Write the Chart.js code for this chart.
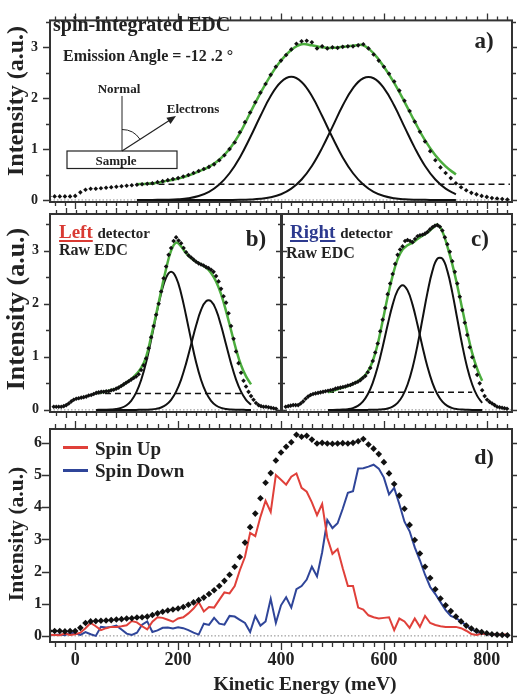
<!DOCTYPE html>
<html>
<head>
<meta charset="utf-8">
<script src="https://cdn.jsdelivr.net/npm/chart.js@4.4.1/dist/chart.umd.min.js"></script>
<style>
  html, body { margin: 0; padding: 0; background: #fff; }
  #page { position: relative; width: 517px; height: 697px; overflow: hidden; }
  canvas { position: absolute; left: 0; top: 0; }
  svg { position: absolute; left: 0; top: 0; }
  .t { position: absolute; font-family: 'Liberation Serif', 'DejaVu Serif', serif; font-weight: bold; color: #222; white-space: nowrap; line-height: 1; }
  .c { transform: translate(-50%, -50%); }
  .v { transform: translate(-50%, -50%) rotate(-90deg); }
  .l { transform: translateY(-50%); }
  .key { position: absolute; height: 2.5px; width: 25px; }
</style>
</head>
<body>
<div id="page">
  <canvas id="chartA" width="517" height="697"></canvas>
  <canvas id="chartB" width="517" height="697"></canvas>
  <canvas id="chartC" width="517" height="697"></canvas>
  <canvas id="chartD" width="517" height="697"></canvas>

  <svg width="517" height="697">
    <rect x="67" y="151" width="110" height="17.5" fill="none" stroke="#222" stroke-width="1.2"/>
    <line x1="122" y1="96" x2="122" y2="151" stroke="#222" stroke-width="1"/>
    <line x1="122" y1="151" x2="170" y2="120" stroke="#222" stroke-width="1.2"/>
    <polygon points="176,116 170.5,124.1 166.4,117.7" fill="#222"/>
    <path d="M 122 129.5 A 21.5 21.5 0 0 1 140 139.3" fill="none" stroke="#222" stroke-width="1"/>
  </svg>

  <div class="t l" style="left:53px;top:24px;font-size:20px">spin-integrated EDC</div>
  <div class="t l" style="left:63px;top:56px;font-size:16px">Emission Angle = -12 .2 °</div>
  <div class="t c" style="left:119px;top:88px;font-size:13px">Normal</div>
  <div class="t c" style="left:193px;top:108px;font-size:13px">Electrons</div>
  <div class="t c" style="left:116px;top:160px;font-size:13px">Sample</div>
  <div class="t c" style="left:484px;top:40px;font-size:23px">a)</div>
  <div class="t v" style="left:15px;top:101px;font-size:24px">Intensity (a.u.)</div>

  <div class="t" style="left:59px;top:222px;font-size:19px;line-height:19px"><span style="color:#d93a33;text-decoration:underline;text-decoration-thickness:2px;text-underline-offset:2px">Left</span> <span style="font-size:15px">detector</span></div>
  <div class="t l" style="left:59px;top:250px;font-size:16px">Raw EDC</div>
  <div class="t c" style="left:256px;top:238px;font-size:23px">b)</div>
  <div class="t v" style="left:16px;top:309px;font-size:26px">Intensity (a.u.)</div>

  <div class="t" style="left:290px;top:222px;font-size:19px;line-height:19px"><span style="color:#2d3a8f;text-decoration:underline;text-decoration-thickness:2px;text-underline-offset:2px">Right</span> <span style="font-size:15px">detector</span></div>
  <div class="t l" style="left:286px;top:253px;font-size:16px">Raw EDC</div>
  <div class="t c" style="left:480px;top:238px;font-size:23px">c)</div>

  <div class="key" style="left:63px;top:446px;background:#e0403a"></div>
  <div class="t l" style="left:95px;top:448px;font-size:19px">Spin Up</div>
  <div class="key" style="left:63px;top:469px;background:#2f4599"></div>
  <div class="t l" style="left:95px;top:470px;font-size:19px">Spin Down</div>
  <div class="t c" style="left:484px;top:457px;font-size:22px">d)</div>
  <div class="t v" style="left:17px;top:534px;font-size:21.5px">Intensity (a.u.)</div>
  <div class="t c" style="left:305px;top:684px;font-size:19.5px">Kinetic Energy (meV)</div>
</div>

<script>
// kinetic energy of the measured points (meV)
const energy = [-50,-40,-30,-20,-10,0,10,20,30,40,50,60,70,80,90,100,110,120,130,140,
  150,160,170,180,190,200,210,220,230,240,250,260,270,280,290,300,310,320,330,340,
  350,360,370,380,390,400,410,420,430,440,450,460,470,480,490,500,510,520,530,540,
  550,560,570,580,590,600,610,620,630,640,650,660,670,680,690,700,710,720,730,740,
  750,760,770,780,790,800,810,820,830,840];

// energies of the fit curves (meV)
const fitE = [120,140,160,180,200,220,240,260,280,300,320,340,360,380,400,420,440,460,
  480,500,520,540,560,580,600,620,640,660,680,700,720,740];

// a) spin-integrated EDC
const aTotal = [0.07,0.07,0.07,0.07,0.07,0.08,0.15,0.20,0.22,0.22,
  0.23,0.24,0.25,0.26,0.27,0.28,0.29,0.30,0.31,0.32,
  0.33,0.35,0.37,0.39,0.41,0.43,0.46,0.49,0.53,0.57,
  0.61,0.65,0.70,0.78,0.88,1.00,1.13,1.33,1.53,1.72,
  1.92,2.11,2.28,2.46,2.62,2.74,2.85,2.96,3.07,3.12,
  3.13,3.10,2.98,3.02,2.98,3.00,2.99,3.01,3.02,3.02,
  3.04,3.06,2.98,2.86,2.74,2.62,2.48,2.33,2.15,1.95,
  1.75,1.54,1.34,1.15,0.96,0.78,0.64,0.53,0.43,0.33,
  0.25,0.19,0.14,0.11,0.08,0.06,0.04,0.03,0.02,0.01];
const aFit = [0.31,0.32,0.34,0.38,0.42,0.48,0.56,0.65,0.79,1.00,
  1.31,1.71,2.10,2.45,2.74,2.95,3.06,3.04,3.00,2.99,
  3.01,3.03,3.04,2.88,2.62,2.30,1.93,1.54,1.17,0.88,0.66,0.50];
const aPeak1 = [0,0.0005,0.002,0.005,0.014,0.034,0.077,0.159,0.303,0.525,
  0.836,1.227,1.650,2.042,2.318,2.42,2.318,2.042,1.650,1.227,
  0.836,0.525,0.303,0.159,0.077,0.034,0.014,0.005,0.002,0.0005,0,0];
const aPeak2 = [0,0,0,0,0,0,0,0,0,0.001,
  0.003,0.009,0.022,0.052,0.112,0.222,0.402,0.668,1.024,1.437,
  1.856,2.200,2.393,2.393,2.200,1.856,1.437,1.024,0.668,0.402,0.222,0.112];
const aBaseE = [123, 845];
const aBaseI = [0.31, 0.31];

// b) left detector
const bTotal = [0.06,0.06,0.06,0.06,0.07,0.09,0.12,0.16,0.19,0.21,
  0.22,0.23,0.24,0.25,0.27,0.28,0.30,0.32,0.33,0.34,
  0.34,0.35,0.35,0.37,0.38,0.40,0.42,0.45,0.48,0.51,
  0.54,0.57,0.60,0.63,0.67,0.75,0.84,0.97,1.16,1.37,
  1.58,1.79,2.00,2.23,2.48,2.70,2.92,3.05,3.18,3.25,
  3.19,3.14,3.05,2.97,2.91,2.87,2.83,2.79,2.76,2.74,
  2.72,2.69,2.67,2.64,2.60,2.52,2.42,2.28,2.14,2.02,
  1.82,1.58,1.34,1.10,0.88,0.70,0.55,0.44,0.34,0.26,
  0.19,0.13,0.09,0.07,0.06,0.06,0.05,0.04,0.03,0.02];
const bFit = [0.32,0.33,0.35,0.37,0.40,0.45,0.51,0.58,0.67,0.79,
  1.00,1.38,1.80,2.24,2.66,3.00,3.15,3.08,2.95,2.86,
  2.79,2.74,2.68,2.58,2.42,2.18,1.86,1.50,1.14,0.84,0.63,0.48];
const bPeak1 = [0,0.001,0.002,0.006,0.015,0.037,0.083,0.171,0.325,0.564,
  0.897,1.318,1.773,2.194,2.491,2.60,2.491,2.194,1.773,1.318,
  0.897,0.564,0.325,0.171,0.083,0.037,0.015,0.006,0.002,0.001,0,0];
const bPeak2 = [0,0,0,0,0,0,0,0,0,0.001,
  0.003,0.007,0.019,0.045,0.096,0.190,0.344,0.571,0.876,1.230,
  1.588,1.882,2.047,2.047,1.882,1.588,1.230,0.876,0.571,0.344,0.190,0.096];
const bBaseE = [115, 705];
const bBaseI = [0.31, 0.31];

// c) right detector
const cTotal = [0.06,0.07,0.08,0.09,0.09,0.09,0.12,0.16,0.21,0.25,
  0.28,0.30,0.31,0.32,0.33,0.34,0.35,0.36,0.37,0.38,
  0.40,0.41,0.42,0.43,0.44,0.46,0.47,0.49,0.51,0.53,
  0.56,0.60,0.64,0.71,0.79,0.92,1.08,1.25,1.48,1.70,
  1.92,2.18,2.38,2.56,2.75,2.92,3.02,3.08,3.18,3.20,
  3.18,3.16,3.22,3.27,3.29,3.30,3.32,3.35,3.40,3.44,
  3.47,3.48,3.45,3.38,3.25,3.12,2.98,2.80,2.60,2.38,
  2.13,1.88,1.64,1.41,1.18,0.99,0.82,0.66,0.50,0.37,
  0.26,0.19,0.15,0.12,0.09,0.06,0.05,0.04,0.03,0.02];
const cFit = [0.33,0.36,0.39,0.42,0.45,0.49,0.54,0.61,0.72,0.92,
  1.24,1.68,2.13,2.53,2.84,3.02,3.10,3.15,3.22,3.28,
  3.34,3.42,3.49,3.36,3.08,2.74,2.34,1.90,1.46,1.07,0.77,0.55];
const cPeak1 = [0,0,0.002,0.005,0.014,0.033,0.075,0.155,0.294,0.510,
  0.811,1.191,1.603,1.983,2.251,2.35,2.251,1.983,1.603,1.191,
  0.811,0.510,0.294,0.155,0.075,0.033,0.014,0.005,0.002,0,0,0];
const cPeak2 = [0,0,0,0,0,0,0,0,0,0.001,
  0.004,0.010,0.026,0.062,0.133,0.264,0.478,0.795,1.218,1.711,
  2.209,2.618,2.848,2.848,2.618,2.209,1.711,1.218,0.795,0.478,0.264,0.133];
const cBaseE = [120, 700];
const cBaseI = [0.33, 0.33];

// d) spin resolved
const dTotal = [0.15,0.15,0.15,0.14,0.15,0.15,0.25,0.40,0.45,0.46,
  0.47,0.48,0.49,0.51,0.52,0.54,0.55,0.57,0.58,0.60,
  0.65,0.70,0.75,0.79,0.82,0.85,0.90,0.97,1.04,1.11,
  1.19,1.30,1.42,1.55,1.71,1.90,2.15,2.45,2.90,3.38,
  3.80,4.28,4.76,5.06,5.45,5.70,5.88,6.02,6.25,6.19,
  6.22,6.10,5.98,6.00,5.98,5.97,5.98,5.99,5.98,6.00,
  6.05,6.12,5.95,5.82,5.65,5.40,5.05,4.72,4.36,3.95,
  3.45,2.98,2.56,2.15,1.80,1.45,1.16,0.95,0.77,0.60,
  0.45,0.32,0.23,0.16,0.12,0.08,0.05,0.04,0.03,0.02];
const dUp = [0.04,0.03,0.02,0.07,0.03,0.05,0.10,0.24,0.40,0.30,
  0.18,0.24,0.28,0.28,0.30,0.33,0.46,0.42,0.30,0.20,
  0.44,0.58,0.56,0.50,0.44,0.54,0.58,0.70,0.85,1.05,
  0.76,0.90,0.88,1.12,1.35,1.32,1.55,2.04,2.46,3.20,
  3.10,3.70,4.20,3.85,5.00,4.85,4.70,4.95,5.05,4.60,
  4.48,4.15,3.75,4.10,3.05,2.55,2.70,2.10,1.55,1.55,
  0.88,0.82,0.64,0.58,0.54,0.56,0.58,0.18,0.54,0.45,
  0.25,0.54,0.28,0.62,0.40,0.34,0.30,0.28,0.28,0.28,
  0.24,0.16,0.06,0.03,0.07,0.06,0.05,0.04,0.04,0.04];
const dDown = [0.02,0.03,0.04,0.02,0.10,0.08,0.03,0.12,0.05,0.00,
  0.28,0.26,0.28,0.32,0.20,0.07,0.03,0.10,0.35,0.45,
  0.12,0.17,0.25,0.26,0.23,0.27,0.24,0.18,0.10,0.04,
  0.38,0.34,0.56,0.38,0.35,0.62,0.60,0.50,0.40,0.12,
  0.62,0.32,0.45,1.15,0.40,0.95,1.20,0.88,1.45,1.55,
  1.75,2.15,1.85,2.60,3.60,3.35,3.50,3.95,4.45,4.50,
  5.20,5.21,5.26,5.32,5.20,4.92,4.40,4.60,4.10,3.55,
  3.25,2.75,2.35,1.90,1.52,1.30,1.05,0.80,0.62,0.55,
  0.45,0.32,0.22,0.12,0.07,0.05,0.04,0.04,0.03,0.02];

// axis ranges and tick labels
const xRangeAD = [-49, 849];
const xRangeBC = [-65, 860];
const xLabelsD = [0, 200, 400, 600, 800];
const yLabelsABC = [0, 1, 2, 3];
const yLabelsD = [0, 1, 2, 3, 4, 5, 6];

const GREEN = '#4cad3e';
const RED = '#e0403a';
const BLUE = '#2f4599';
const FONT = 'Liberation Serif';

const pts = (xs, ys) => xs.map((x, i) => ({ x: x, y: ys[i] }));

function dots(xs, ys, r) {
    return { data: pts(xs, ys), showLine: false, pointStyle: 'rectRot', pointRadius: r,
             pointBackgroundColor: '#111', pointBorderWidth: 0 };
}

function curve(xs, ys, color, width, extra) {
    return Object.assign({ data: pts(xs, ys), borderColor: color, borderWidth: width,
                           pointRadius: 0, tension: 0.4, fill: false }, extra || {});
}

function zeroLine(range) {
    return curve(range, [0, 0], '#888', 1, { borderDash: [1.5, 2], tension: 0 });
}

// box around the plot area plus outward major/minor ticks
const frameTicks = {
    id: 'frameTicks',
    afterDatasetsDraw(chart, args, o) {
        const { ctx, chartArea: ca, scales } = chart;
        const xs = scales.x, ys = scales.y;
        ctx.save();
        ctx.strokeStyle = '#333';
        ctx.lineWidth = 1.3;
        ctx.beginPath();
        for (let i = Math.ceil(xs.min / o.xStep); i * o.xStep <= xs.max; i++) {
            const px = Math.round(xs.getPixelForValue(i * o.xStep)) + 0.5;
            const len = i % o.xEvery === 0 ? o.major : o.minor;
            ctx.moveTo(px, ca.bottom); ctx.lineTo(px, ca.bottom + len);
            ctx.moveTo(px, ca.top); ctx.lineTo(px, ca.top - len);
        }
        for (let i = Math.ceil(ys.min / o.yStep); i * o.yStep <= ys.max; i++) {
            const py = Math.round(ys.getPixelForValue(i * o.yStep)) + 0.5;
            const len = i % o.yEvery === 0 ? o.major : o.minor;
            ctx.moveTo(ca.left, py); ctx.lineTo(ca.left - len, py);
            ctx.moveTo(ca.right, py); ctx.lineTo(ca.right + len, py);
        }
        ctx.stroke();
        ctx.lineWidth = 2;
        ctx.strokeRect(ca.left, ca.top, ca.right - ca.left, ca.bottom - ca.top);
        ctx.restore();
    }
};

function makeChart(id, datasets, o) {
    const yScale = {
        min: o.yMin, max: o.yMax, display: !!o.yLabels,
        grid: { display: false, drawTicks: false }, border: { display: false },
        ticks: { padding: o.yPad, color: '#222', font: { family: FONT, weight: 'bold', size: o.yFont } },
        afterBuildTicks: s => { if (o.yLabels) s.ticks = o.yLabels.map(v => ({ value: v })); },
        afterFit: s => { if (o.yLabels) s.width = 50; }
    };
    const xScale = {
        type: 'linear', min: o.xRange[0], max: o.xRange[1], display: !!o.xLabels,
        grid: { display: false, drawTicks: false }, border: { display: false },
        ticks: { autoSkip: false, maxRotation: 0, padding: 8, color: '#222',
                 font: { family: FONT, weight: 'bold', size: 18 } },
        afterBuildTicks: s => { if (o.xLabels) s.ticks = o.xLabels.map(v => ({ value: v })); },
        afterFit: s => { if (o.xLabels) s.height = 30; }
    };
    return new Chart(document.getElementById(id), {
        type: 'line',
        data: { datasets: datasets },
        options: {
            responsive: false,
            animation: false,
            devicePixelRatio: 1,
            layout: { padding: o.pad },
            plugins: { legend: { display: false }, tooltip: { enabled: false }, frameTicks: o.ticks },
            scales: { x: xScale, y: yScale }
        },
        plugins: [frameTicks]
    });
}

function edcPanel(total, fit, p1, p2, baseE, baseI, range) {
    return [
        dots(energy, total, 2.3),
        curve(fitE, fit, GREEN, 2.5),
        curve(fitE, p1, '#111', 2),
        curve(fitE, p2, '#111', 2),
        curve(baseE, baseI, '#111', 1.5, { borderDash: [6, 4], tension: 0 }),
        zeroLine(range)
    ];
}

makeChart('chartA', edcPanel(aTotal, aFit, aPeak1, aPeak2, aBaseE, aBaseI, xRangeAD), {
    pad: { left: 0, top: 14, right: 5, bottom: 495 },
    xRange: xRangeAD, yMin: -0.04, yMax: 3.53, yLabels: yLabelsABC, yPad: 12, yFont: 14,
    ticks: { xStep: 20, xEvery: 10, yStep: 0.5, yEvery: 2, major: 7, minor: 4 }
});

makeChart('chartB', edcPanel(bTotal, bFit, bPeak1, bPeak2, bBaseE, bBaseI, xRangeBC), {
    pad: { left: 0, top: 214, right: 236, bottom: 285 },
    xRange: xRangeBC, yMin: -0.04, yMax: 3.69, yLabels: yLabelsABC, yPad: 11, yFont: 14,
    ticks: { xStep: 40, xEvery: 5, yStep: 0.5, yEvery: 2, major: 6, minor: 4 }
});

makeChart('chartC', edcPanel(cTotal, cFit, cPeak1, cPeak2, cBaseE, cBaseI, xRangeBC), {
    pad: { left: 282, top: 214, right: 5, bottom: 285 },
    xRange: xRangeBC, yMin: -0.04, yMax: 3.69, yLabels: null, yPad: 11, yFont: 14,
    ticks: { xStep: 40, xEvery: 5, yStep: 0.5, yEvery: 2, major: 6, minor: 4 }
});

makeChart('chartD', [
    dots(energy, dTotal, 3.3),
    curve(energy, dUp, RED, 2, { tension: 0 }),
    curve(energy, dDown, BLUE, 2, { tension: 0 }),
    zeroLine(xRangeAD)
], {
    pad: { left: 0, top: 429, right: 5, bottom: 25 },
    xRange: xRangeAD, xLabels: xLabelsD, yMin: -0.19, yMax: 6.43, yLabels: yLabelsD, yPad: 8, yFont: 16,
    ticks: { xStep: 20, xEvery: 10, yStep: 1, yEvery: 1, major: 8, minor: 5 }
});
</script>
</body>
</html>
